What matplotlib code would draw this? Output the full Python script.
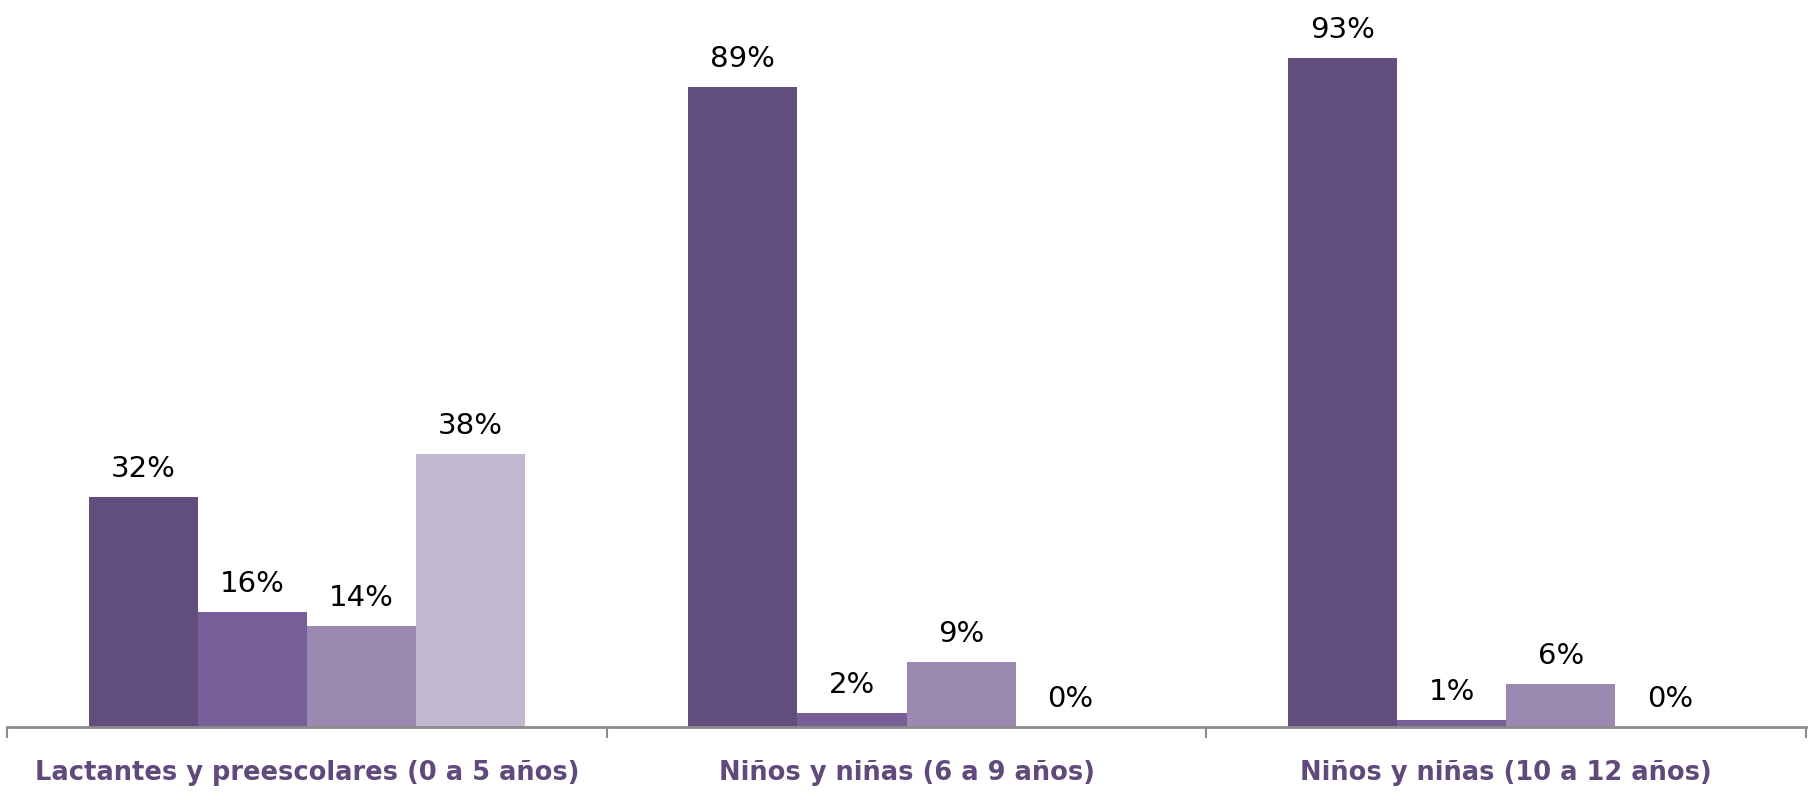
import matplotlib.pyplot as plt
import numpy as np

categories = ["Lactantes y preescolares (0 a 5 años)",
              "Niños y niñas (6 a 9 años)",
              "Niños y niñas (10 a 12 años)"]
serie_1 = [32, 89, 93]
serie_2 = [16, 2, 1]
serie_3 = [14, 9, 6]
serie_4 = [38, 0, 0]

series = [serie_1, serie_2, serie_3, serie_4]
colors = ["#624e7c", "#775e96", "#9b89b2", "#c2b8d0"]

fig = plt.figure(figsize=(18.16, 8.01), dpi=100)
ax = fig.add_axes([0.0039, 0.0924, 0.9906, 0.8976])

x = np.arange(len(categories))
w = 0.182
for i, vals in enumerate(series):
    pos = x + (i - 1.5) * w
    bars = ax.bar(pos, vals, width=w, color=colors[i], linewidth=0)
    for b, v in zip(bars, vals):
        ax.annotate(f"{v}%", (b.get_x() + b.get_width() / 2, v),
                    xytext=(0, 10), textcoords="offset points",
                    ha="center", va="bottom", fontsize=21,
                    family="DejaVu Sans", color="black")

ax.set_xlim(-0.5, 2.5)
ax.set_ylim(0, 100)
ax.set_yticks([])
for s in ["top", "right", "left"]:
    ax.spines[s].set_visible(False)
ax.spines["bottom"].set_color("#8c8c8c")
ax.spines["bottom"].set_linewidth(2)

ax.set_xticks(x)
ax.set_xticklabels(categories, fontsize=18.5, family="DejaVu Sans",
                   fontweight="bold", color="#604a7b")
ax.tick_params(axis="x", which="major", length=0, pad=24)
ax.set_xticks([-0.5, 0.5, 1.5, 2.5], minor=True)
ax.tick_params(axis="x", which="minor", length=8, width=1.5, color="#8c8c8c")

fig.savefig("out.png", dpi=100)
